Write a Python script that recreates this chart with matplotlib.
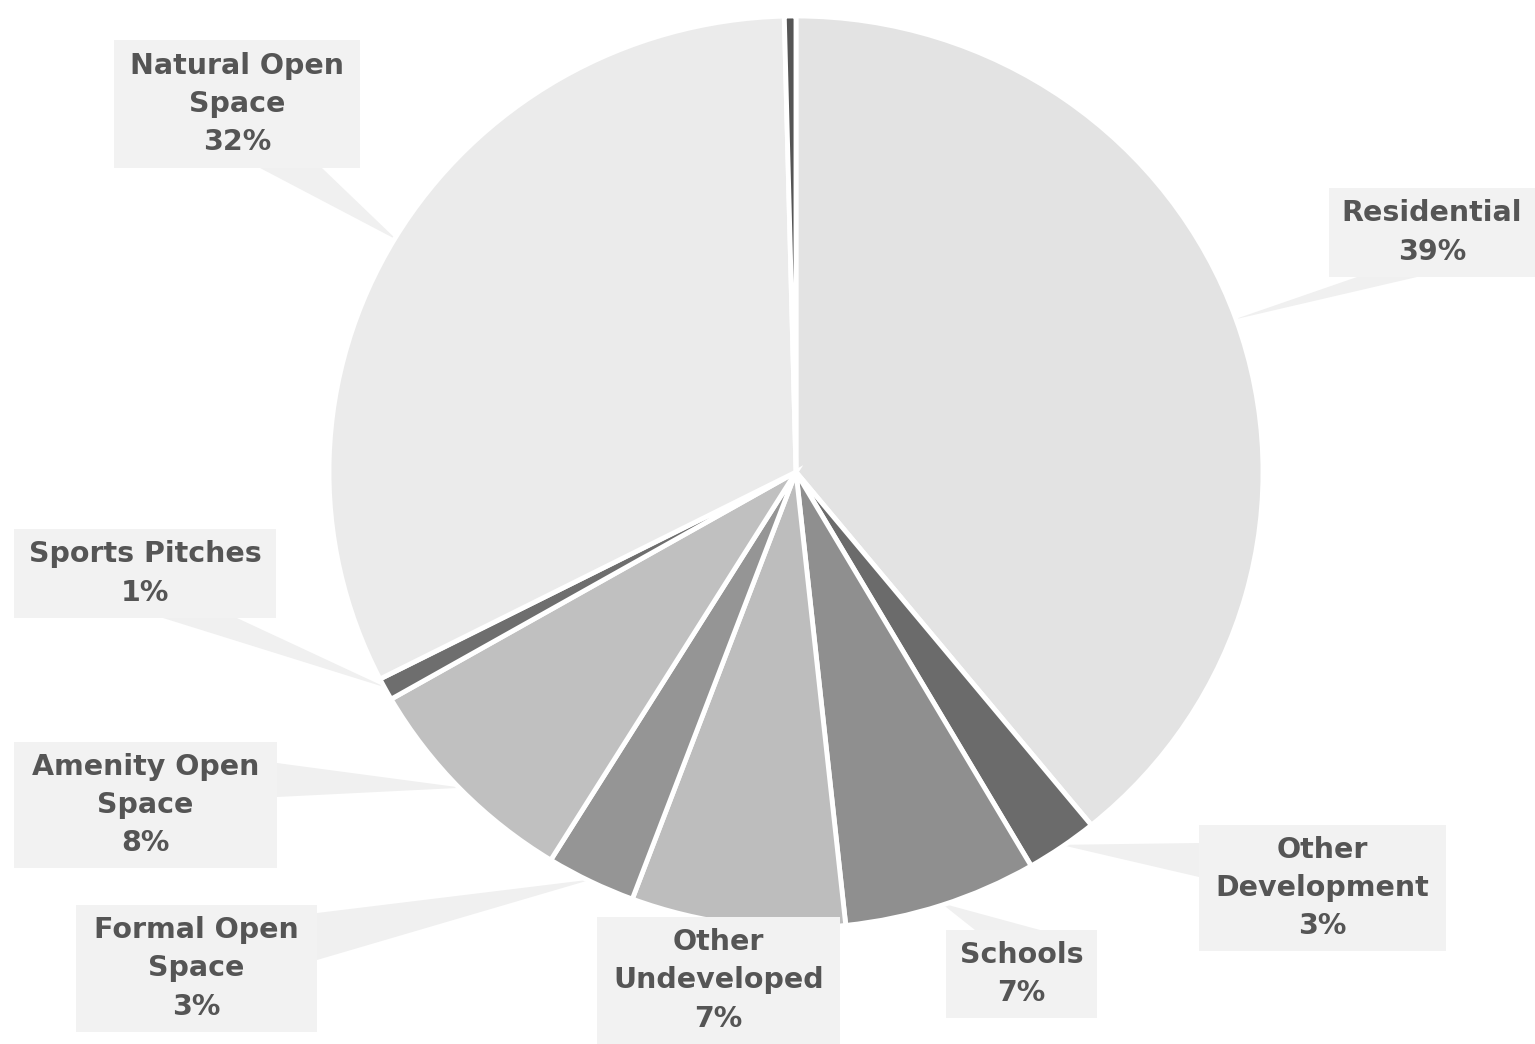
import matplotlib
matplotlib.use("Agg")
import numpy as np
import matplotlib.pyplot as plt
from matplotlib.patches import Polygon, Rectangle

# land use shares, clockwise from 12 o'clock
categories = ["Residential", "Other\nDevelopment", "Schools", "Other\nUndeveloped",
              "Formal Open\nSpace", "Amenity Open\nSpace", "Sports Pitches",
              "Natural Open\nSpace", "Other"]
shares = [39.1, 2.5, 6.7, 7.4, 3.1, 7.9, 0.8, 32.1, 0.4]
pct_labels = ["39%", "3%", "7%", "7%", "3%", "8%", "1%", "32%", None]
colors = ["#e3e3e3", "#6b6b6b", "#8f8f8f", "#bdbdbd", "#959595",
          "#c0c0c0", "#6e6e6e", "#ebebeb", "#555555"]

# label boxes in pixel space: (x0, y0, x1, y1) and the two base points of the callout
boxes = [
    ((1329, 188, 1540, 277), ((1357, 277), (1417, 277))),
    ((1199, 825, 1446, 951), ((1199, 843), (1199, 877))),
    ((946, 930, 1097, 1018), ((975, 930), (1040, 930))),
    ((597, 917, 840, 1044), ((690, 917), (760, 917))),
    ((76, 905, 317, 1032), ((317, 913), (317, 960))),
    ((14, 742, 277, 868), ((277, 763), (277, 797))),
    ((14, 529, 276, 618), ((163, 618), (237, 618))),
    ((114, 40, 360, 168), ((260, 168), (322, 168))),
]

W, H = 1535, 1044
CX, CY, RX, RY = 796, 472, 467, 456


def px(x, y):
    return ((x - CX) / RX, (CY - y) / RY)


fig = plt.figure(figsize=(W / 100, H / 100), dpi=100)
ax = fig.add_axes([0, 0, 1, 1])
wedges, _ = ax.pie(shares, colors=colors, startangle=90, counterclock=False,
                   wedgeprops=dict(edgecolor="white", linewidth=3.5))
ax.set_aspect("auto")
ax.set_xlim(px(0, 0)[0], px(W, 0)[0])
ax.set_ylim(px(0, H)[1], px(0, 0)[1])
ax.axis("off")

for i, (box, base) in enumerate(boxes):
    w = wedges[i]
    mid = np.deg2rad((w.theta1 + w.theta2) / 2)
    tip = (np.cos(mid) * 0.995, np.sin(mid) * 0.995)
    ax.add_patch(Polygon([tip, px(*base[0]), px(*base[1])], closed=True,
                         facecolor="#f0f0f0", edgecolor="none", zorder=0))
    x0, y0, x1, y1 = box
    (a, b), (c, d) = px(x0, y1), px(x1, y0)
    ax.add_patch(Rectangle((a, b), c - a, d - b, facecolor="#f2f2f2",
                           edgecolor="none", zorder=3))
    tx, ty = px((x0 + x1) / 2 if i != 0 else 1432, (y0 + y1) / 2)
    ax.text(tx, ty, categories[i] + "\n" + pct_labels[i], ha="center", va="center",
            fontsize=20.5, fontweight="bold", family="DejaVu Sans", color="#555555",
            linespacing=1.46, zorder=4)

fig.savefig("out.png", dpi=100)
